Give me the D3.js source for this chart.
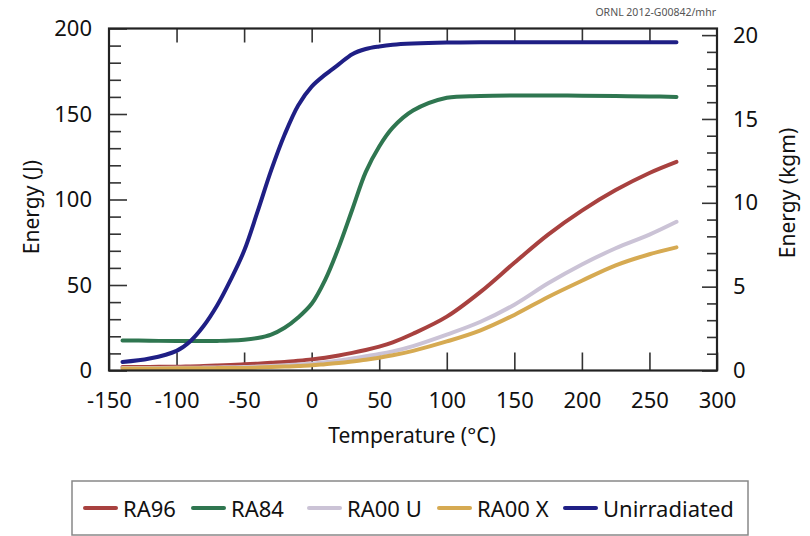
<!DOCTYPE html>
<html>
<head>
<meta charset="utf-8">
<script src="https://cdn.jsdelivr.net/npm/d3@7"></script>
<style>
  html, body { margin: 0; padding: 0; background: #fff; }
  svg { display: block; font-family: "Noto Sans", "Open Sans", sans-serif; }
</style>
</head>
<body>
<svg id="chart" width="810" height="536"></svg>
<script>
// Charpy impact energy versus test temperature
const temps = [-140,-120,-100,-90,-80,-70,-60,-50,-40,-30,-20,-10,0,10,20,30,40,50,60,75,100,125,150,175,200,225,250,270];

const ra96 = [2.0,2.1,2.2,2.4,2.6,2.9,3.2,3.6,4.0,4.5,5.0,5.7,6.5,7.5,8.8,10.3,12.0,14.0,16.5,21.5,31.5,46,63,79.5,93.5,105.5,115.5,122];
const ra84 = [17.6,17.4,17.2,17.2,17.2,17.3,17.5,18,19,21,25,31,39,53,72,94,116,131,142,152,159.5,160.5,160.8,160.8,160.7,160.5,160.3,160];
const ra00u = [1.5,1.5,1.6,1.6,1.7,1.8,1.9,2.0,2.3,2.6,3.0,3.5,4.0,4.8,5.8,7.0,8.3,9.6,11.2,14.3,21,28.5,38.5,51,62,71.5,79.5,87];
const ra00x = [1.2,1.2,1.3,1.3,1.3,1.4,1.4,1.5,1.7,2.0,2.3,2.6,3.0,3.7,4.4,5.3,6.3,7.5,8.9,11.5,17,23.5,32.5,43,52.5,61.5,68,72];
const unirradiated = [5,7,11.5,17,26,38,53,70,93,117,138,155,166,173,179,185,188,189.5,190.5,191.2,191.8,192,192,192,192,192,192,192];

const seriesNames = ["RA96", "RA84", "RA00 U", "RA00 X", "Unirradiated"];
const seriesValues = [ra96, ra84, ra00u, ra00x, unirradiated];
const seriesColors = ["#a8413f", "#2f7650", "#cbc3d6", "#d6aa52", "#1f1f85"];
const drawOrder = [1, 4, 0, 2, 3];

const xTicks = [-150,-100,-50,0,50,100,150,200,250,300];
const yTicks = [0,50,100,150,200];
const yMinor = d3.range(10, 200, 10).filter(v => v % 50 !== 0);
const kgmTicks = [0,5,10,15,20];
const kgmMinor = d3.range(1, 21).filter(v => v % 5 !== 0);
const J_PER_KGM = 9.80665;

const svg = d3.select("#chart");
const plotLeft = 109, plotRight = 717, plotTop = 28.5, plotBottom = 370.5;

const x = d3.scaleLinear().domain([-150, 300]).range([plotLeft, plotRight]);
const y = d3.scaleLinear().domain([0, 200]).range([plotBottom, plotTop]);
const yKgm = d3.scaleLinear().domain([0, 200 / J_PER_KGM]).range([plotBottom, plotTop]);

const tickColor = "#333";
const labelSize = "22px";
const plainNumber = d => String(d);   // keeps an ASCII hyphen for negatives

function styleAxis(g, showLabels) {
  g.select(".domain").remove();
  g.selectAll(".tick line").attr("stroke", tickColor).attr("stroke-width", 1.6);
  if (showLabels) {
    g.selectAll(".tick text").attr("fill", "#111").style("font-size", labelSize);
  } else {
    g.selectAll(".tick text").remove();
  }
  g.attr("font-family", null).attr("font-size", null);
}

// bottom axis
svg.append("g").attr("transform", `translate(0,${plotBottom})`)
  .call(d3.axisBottom(x).tickValues(xTicks).tickSize(-18).tickPadding(22).tickFormat(plainNumber))
  .call(g => styleAxis(g, true));

// top axis (ticks only)
svg.append("g").attr("transform", `translate(0,${plotTop})`)
  .call(d3.axisTop(x).tickValues(xTicks.slice(1, -1)).tickSize(-14))
  .call(g => styleAxis(g, false));

// left axis
svg.append("g").attr("transform", `translate(${plotLeft},0)`)
  .call(d3.axisLeft(y).tickValues(yTicks).tickSize(-18).tickPadding(17).tickFormat(plainNumber))
  .call(g => styleAxis(g, true));
svg.append("g").attr("transform", `translate(${plotLeft},0)`)
  .call(d3.axisLeft(y).tickValues(yMinor).tickSize(-12))
  .call(g => styleAxis(g, false));

// right axis in kgm
svg.append("g").attr("transform", `translate(${plotRight},0)`)
  .call(d3.axisRight(yKgm).tickValues(kgmTicks).tickSize(-15).tickPadding(16).tickFormat(plainNumber))
  .call(g => styleAxis(g, true));
svg.append("g").attr("transform", `translate(${plotRight},0)`)
  .call(d3.axisRight(yKgm).tickValues(kgmMinor).tickSize(-10))
  .call(g => styleAxis(g, false));

// curves
const line = d3.line()
  .x(d => x(d[0]))
  .y(d => y(d[1]))
  .curve(d3.curveCatmullRom.alpha(0.5));

svg.append("g").selectAll("path")
  .data(drawOrder)
  .join("path")
  .attr("fill", "none")
  .attr("stroke", i => seriesColors[i])
  .attr("stroke-width", 4)
  .attr("stroke-linejoin", "round")
  .attr("stroke-linecap", "round")
  .attr("d", i => line(temps.map((t, k) => [t, seriesValues[i][k]])));

// frame
svg.append("rect")
  .attr("x", plotLeft).attr("y", plotTop)
  .attr("width", plotRight - plotLeft).attr("height", plotBottom - plotTop)
  .attr("fill", "none").attr("stroke", "#222").attr("stroke-width", 2.2);

// axis titles
svg.append("text")
  .attr("transform", "translate(31,207) rotate(-90)")
  .attr("text-anchor", "middle").attr("dominant-baseline", "central")
  .style("font-size", "21px").attr("fill", "#111")
  .text("Energy (J)");

svg.append("text")
  .attr("transform", "translate(787,193) rotate(-90)")
  .attr("text-anchor", "middle").attr("dominant-baseline", "central")
  .style("font-size", "21px").attr("fill", "#111")
  .text("Energy (kgm)");

svg.append("text")
  .attr("x", 412).attr("y", 443)
  .attr("text-anchor", "middle")
  .style("font-size", "21px").attr("fill", "#111")
  .text("Temperature (°C)");

// figure id
svg.append("text")
  .attr("x", 716).attr("y", 16)
  .attr("text-anchor", "end")
  .style("font-size", "10.5px").attr("fill", "#555")
  .text("ORNL 2012-G00842/mhr");

// legend
const legend = svg.append("g");
legend.append("rect")
  .attr("x", 72).attr("y", 481).attr("width", 676).attr("height", 54)
  .attr("fill", "#fff").attr("stroke", "#888").attr("stroke-width", 1.5);

const legendX = [85, 193, 309, 439, 565];
const items = legend.selectAll("g.item")
  .data(seriesNames.map((n, i) => ({ name: n, color: seriesColors[i], x: legendX[i] })))
  .join("g").attr("class", "item")
  .attr("transform", d => `translate(${d.x},508)`);
items.append("line")
  .attr("x1", 0).attr("x2", 31).attr("y1", 0).attr("y2", 0)
  .attr("stroke", d => d.color).attr("stroke-width", 4).attr("stroke-linecap", "round");
items.append("text")
  .attr("x", 38).attr("dominant-baseline", "central")
  .style("font-size", "22px").attr("fill", "#111")
  .text(d => d.name);
</script>
</body>
</html>
